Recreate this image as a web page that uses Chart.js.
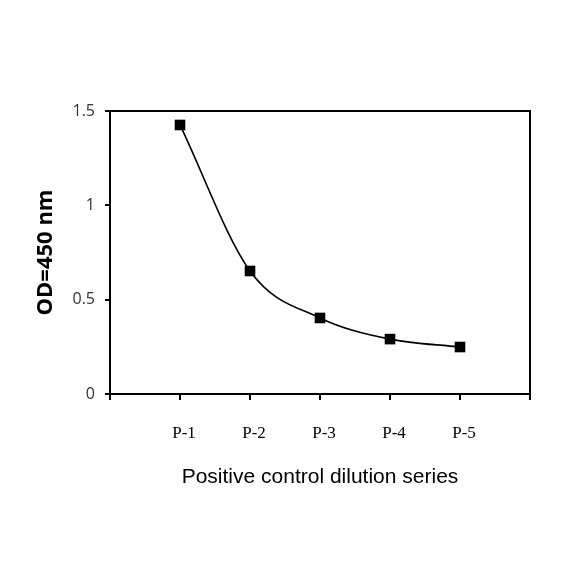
<!DOCTYPE html>
<html>
<head>
<meta charset="utf-8">
<script src="https://cdn.jsdelivr.net/npm/chart.js@4/dist/chart.umd.min.js"></script>
<style>
  html, body { margin: 0; padding: 0; background: #fff; }
  #wrap { width: 584px; height: 584px; }
</style>
</head>
<body>
<div id="wrap"><canvas id="odChart" width="584" height="584"></canvas></div>
<script>
// data
const categories = ["P-1", "P-2", "P-3", "P-4", "P-5"];
const odValues = [1.426, 0.652, 0.403, 0.291, 0.249];
const yTicks = [0, 0.5, 1, 1.5];

document.addEventListener("DOMContentLoaded", function () {
  // draws the top and right sides of the plot box
  const frameBox = {
    id: "frameBox",
    afterDraw(chart) {
      const { ctx, chartArea } = chart;
      ctx.save();
      ctx.strokeStyle = "#000";
      ctx.lineWidth = 2;
      ctx.beginPath();
      ctx.moveTo(chartArea.left, chartArea.top);
      ctx.lineTo(chartArea.right, chartArea.top);
      ctx.lineTo(chartArea.right, chartArea.bottom);
      ctx.stroke();
      ctx.restore();
    },
  };

  const ctx = document.getElementById("odChart").getContext("2d");
  new Chart(ctx, {
    type: "line",
    data: {
      datasets: [
        {
          data: odValues.map((v, i) => ({ x: i + 1, y: v })),
          borderColor: "#000",
          borderWidth: 1.6,
          backgroundColor: "#000",
          pointStyle: "rect",
          pointRadius: 7.5,
          pointBorderWidth: 0,
          cubicInterpolationMode: "monotone",
          fill: false,
        },
      ],
    },
    options: {
      responsive: false,
      animation: false,
      layout: { padding: { top: 111, right: 54, left: 0, bottom: 0 } },
      plugins: {
        legend: { display: false },
        tooltip: { enabled: false },
      },
      scales: {
        x: {
          type: "linear",
          min: 0,
          max: categories.length + 1,
          afterFit: (scale) => { scale.height = 190; },
          afterBuildTicks: (scale) => {
            scale.ticks = [];
            for (let i = 0; i <= categories.length + 1; i++) scale.ticks.push({ value: i });
          },
          border: { display: true, color: "#000", width: 2 },
          grid: { drawOnChartArea: false, drawTicks: true, tickLength: 6, color: "#000", lineWidth: 2 },
          ticks: {
            padding: 23,
            labelOffset: 4,
            maxRotation: 0,
            autoSkip: false,
            color: "#000",
            font: { family: "'Liberation Serif', 'Times New Roman', serif", size: 17 },
            callback: (v) => categories[v - 1] || "",
          },
          title: {
            display: true,
            text: "Positive control dilution series",
            color: "#000",
            font: { family: "'Liberation Sans', Arial, sans-serif", size: 21 },
            padding: { top: 0, bottom: 94 },
          },
        },
        y: {
          min: 0,
          max: 1.5,
          afterFit: (scale) => { scale.width = 110; },
          afterBuildTicks: (scale) => {
            scale.ticks = yTicks.map((v) => ({ value: v }));
          },
          border: { display: true, color: "#000", width: 2 },
          grid: { drawOnChartArea: false, drawTicks: true, tickLength: 5, color: "#000", lineWidth: 2 },
          ticks: {
            padding: 10,
            color: "#333",
            font: { family: "'Open Sans', 'Noto Sans', sans-serif", size: 16 },
            callback: (v) => String(v),
          },
          title: {
            display: true,
            text: "OD=450 nm",
            color: "#000",
            font: { family: "'Open Sans', 'Noto Sans', sans-serif", size: 22, weight: "bold" },
            padding: { top: 33, bottom: 0 },
          },
        },
      },
    },
    plugins: [frameBox],
  });
});
</script>
</body>
</html>
